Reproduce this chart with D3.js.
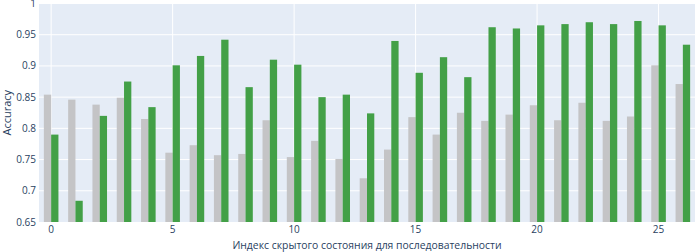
<!DOCTYPE html>
<html>
<head>
<meta charset="utf-8">
<script src="https://cdn.jsdelivr.net/npm/d3@7"></script>
<style>
  body { margin: 0; background: #fff; }
  svg text { font-family: "Open Sans", "DejaVu Sans", sans-serif; fill: #2a3f5f; }
</style>
</head>
<body>
<svg id="chart"></svg>
<script>
const states = d3.range(27);
const baseline = [0.854, 0.846, 0.838, 0.849, 0.815, 0.761, 0.773, 0.757, 0.759, 0.813,
  0.754, 0.780, 0.751, 0.720, 0.766, 0.818, 0.790, 0.825, 0.812, 0.822,
  0.837, 0.813, 0.841, 0.812, 0.819, 0.901, 0.871];
const model = [0.790, 0.684, 0.820, 0.875, 0.834, 0.901, 0.916, 0.942, 0.866, 0.910,
  0.902, 0.850, 0.854, 0.824, 0.940, 0.889, 0.914, 0.882, 0.962, 0.960,
  0.965, 0.967, 0.970, 0.967, 0.972, 0.965, 0.934];
const yTicks = [0.65, 0.7, 0.75, 0.8, 0.85, 0.9, 0.95, 1];
const xTicks = [0, 5, 10, 15, 20, 25];

const width = 696;
const height = 252;
const margin = { top: 3.5, right: 1, bottom: 30, left: 39 };

const svg = d3.select("#chart").attr("width", width).attr("height", height);

const x = d3.scaleLinear()
  .domain([-0.5, 26.5])
  .range([margin.left, width - margin.right]);
const y = d3.scaleLinear()
  .domain([0.65, 1])
  .range([height - margin.bottom, margin.top]);

const step = x(1) - x(0);
const barW = step * 0.3;

// plot background
svg.append("rect")
  .attr("x", x(-0.5))
  .attr("y", y(1))
  .attr("width", x(26.5) - x(-0.5))
  .attr("height", y(0.65) - y(1))
  .attr("fill", "#e5ecf6");

// gridlines
svg.append("g")
  .selectAll("line")
  .data(yTicks.slice(1))
  .enter()
  .append("line")
  .attr("x1", x(-0.5))
  .attr("x2", x(26.5))
  .attr("y1", (d) => y(d))
  .attr("y2", (d) => y(d))
  .attr("stroke", "#fff")
  .attr("stroke-width", 1);

svg.append("g")
  .selectAll("line")
  .data(xTicks)
  .enter()
  .append("line")
  .attr("x1", (d) => x(d))
  .attr("x2", (d) => x(d))
  .attr("y1", y(0.65))
  .attr("y2", y(1))
  .attr("stroke", "#fff")
  .attr("stroke-width", 1);

// bars: grey baseline left, green model right
svg.append("g")
  .selectAll("rect")
  .data(states)
  .enter()
  .append("rect")
  .attr("x", (d) => x(d) - barW)
  .attr("width", barW)
  .attr("y", (d) => y(baseline[d]))
  .attr("height", (d) => y(0.65) - y(baseline[d]))
  .attr("fill", "#c4c4c6");

svg.append("g")
  .selectAll("rect")
  .data(states)
  .enter()
  .append("rect")
  .attr("x", (d) => x(d))
  .attr("width", barW)
  .attr("y", (d) => y(model[d]))
  .attr("height", (d) => y(0.65) - y(model[d]))
  .attr("fill", "#43a047");

// y tick labels
svg.append("g")
  .selectAll("text")
  .data(yTicks)
  .enter()
  .append("text")
  .attr("x", margin.left - 3)
  .attr("y", (d) => y(d))
  .attr("dy", "0.35em")
  .attr("text-anchor", "end")
  .style("font-size", "10px")
  .text((d) => d3.format("")(d));

// x tick labels
svg.append("g")
  .selectAll("text")
  .data(xTicks)
  .enter()
  .append("text")
  .attr("x", (d) => x(d))
  .attr("y", y(0.65) + 11)
  .attr("text-anchor", "middle")
  .style("font-size", "10px")
  .text((d) => d);

// axis titles
svg.append("text")
  .attr("x", (x(-0.5) + x(26.5)) / 2)
  .attr("y", 249)
  .attr("text-anchor", "middle")
  .style("font-size", "10.4px")
  .text("Индекс скрытого состояния для последовательности");

svg.append("text")
  .attr("transform", `translate(11, ${(y(0.65) + y(1)) / 2}) rotate(-90)`)
  .attr("text-anchor", "middle")
  .style("font-size", "11px")
  .text("Accuracy");
</script>
</body>
</html>
